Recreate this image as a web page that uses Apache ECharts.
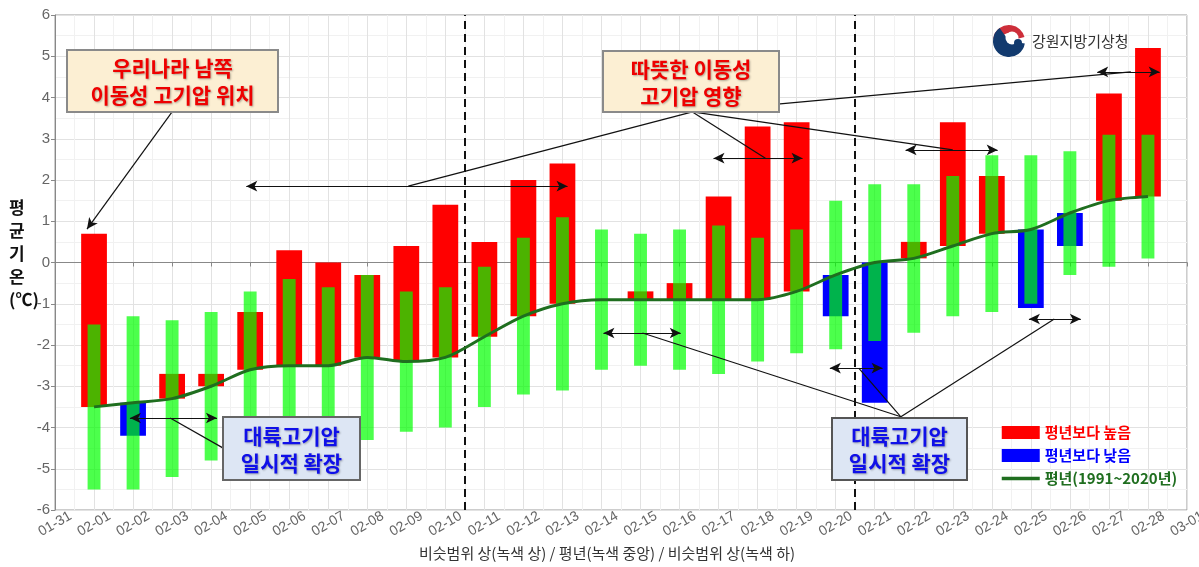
<!DOCTYPE html>
<html>
<head>
<meta charset="utf-8">
<script src="https://cdn.jsdelivr.net/npm/echarts@6/dist/echarts.min.js"></script>
<style>
html,body{margin:0;padding:0;background:#fff;}
#c{width:1199px;height:567px;}
</style>
</head>
<body>
<div id="c"></div>
<script>
// ---- data ----
const tickLabels = ['01-31','02-01','02-02','02-03','02-04','02-05','02-06','02-07','02-08','02-09','02-10',
  '02-11','02-12','02-13','02-14','02-15','02-16','02-17','02-18','02-19','02-20',
  '02-21','02-22','02-23','02-24','02-25','02-26','02-27','02-28','03-01'];
const days = ['02-01','02-02','02-03','02-04','02-05','02-06','02-07','02-08','02-09','02-10',
  '02-11','02-12','02-13','02-14','02-15','02-16','02-17','02-18','02-19','02-20',
  '02-21','02-22','02-23','02-24','02-25','02-26','02-27','02-28'];
const observed = [0.7,-4.2,-2.7,-2.7,-1.2,0.3,0.0,-0.3,0.4,1.4,0.5,2.0,2.4,-0.9,-0.7,-0.5,1.6,3.3,3.4,-1.3,-3.4,0.5,3.4,2.1,-1.1,0.4,4.1,5.2];
const normal = [-3.5,-3.4,-3.3,-3.0,-2.6,-2.5,-2.5,-2.3,-2.4,-2.3,-1.8,-1.3,-1.0,-0.9,-0.9,-0.9,-0.9,-0.9,-0.7,-0.3,0.0,0.1,0.4,0.7,0.8,1.2,1.5,1.6];
const rangeUpper = [-1.5,-1.3,-1.4,-1.2,-0.7,-0.4,-0.6,-0.3,-0.7,-0.6,-0.1,0.6,1.1,0.8,0.7,0.8,0.9,0.6,0.8,1.5,1.9,1.9,2.1,2.6,2.6,2.7,3.1,3.1];
const rangeLower = [-5.5,-5.5,-5.2,-4.8,-4.6,-4.6,-4.5,-4.3,-4.1,-4.0,-3.5,-3.2,-3.1,-2.6,-2.5,-2.6,-2.7,-2.4,-2.2,-2.1,-1.9,-1.7,-1.3,-1.2,-1.0,-0.3,-0.1,0.1];
const yTicks = [-6,-5,-4,-3,-2,-1,0,1,2,3,4,5,6];

// ---- build ----
const dayIndex = d => tickLabels.indexOf(d);
const highData = [], lowData = [], rangeData = [], normalData = [];
days.forEach((d, i) => {
  const x = dayIndex(d);
  if (observed[i] >= normal[i]) highData.push([x, normal[i], observed[i]]);
  else lowData.push([x, normal[i], observed[i]]);
  rangeData.push([x, rangeLower[i], rangeUpper[i]]);
  normalData.push([x, normal[i]]);
});

function floatBar(widthFrac, fill) {
  return function (params, api) {
    const x = api.value(0), a = api.value(1), b = api.value(2);
    const p1 = api.coord([x, Math.max(a, b)]);
    const p2 = api.coord([x, Math.min(a, b)]);
    const w = api.size([widthFrac, 0])[0];
    return {type: 'rect', shape: {x: p1[0] - w / 2, y: p1[1], width: w, height: Math.max(p2[1] - p1[1], 0)},
      style: {fill: fill}};
  };
}

const FONT = '"Liberation Sans", "Noto Sans CJK KR", sans-serif';
const KFONT = '"Noto Sans CJK KR", sans-serif';

const arrow = (x1, x2, y) => [{coord: [x1, y]}, {coord: [x2, y]}];
const conn = (p, q) => [{coord: p, symbol: 'none'}, {coord: q, symbol: 'none'}];

function box(x, y, w, h, fill, stroke, text, color) {
  return [
    {type: 'rect', z: 100, zlevel: 1, shape: {x: x, y: y, width: w, height: h}, style: {fill: fill, stroke: stroke, lineWidth: 2}},
    {type: 'text', z: 101, zlevel: 1, x: x + w / 2, y: y + h / 2 + 1,
      style: {text: text, font: 'bold 21px ' + KFONT, fill: color, align: 'center', verticalAlign: 'middle', lineHeight: 27,
        textShadowColor: 'rgba(0,0,0,0.3)', textShadowBlur: 2, textShadowOffsetX: 1, textShadowOffsetY: 1}}
  ];
}

const chart = echarts.init(document.getElementById('c'), null, {renderer: 'canvas'});
const option = {
  animation: false,
  textStyle: {fontFamily: FONT},
  grid: {left: 55, right: 12, top: 15, bottom: 57, show: true, borderColor: '#9a9a9a', borderWidth: 1,
    containLabel: false, outerBoundsMode: 'none'},
  xAxis: {
    type: 'value', min: 0, max: 29, interval: 1,
    axisLine: {lineStyle: {color: '#888'}},
    axisTick: {show: true, length: 4, lineStyle: {color: '#888'}},
    axisLabel: {formatter: v => tickLabels[v] || '', rotate: 30, color: '#666', fontSize: 14, margin: 14,
      align: 'center', verticalAlign: 'middle', fontFamily: FONT, hideOverlap: false},
    splitLine: {show: true, lineStyle: {color: '#e2e2e2'}},
    minorTick: {show: false, splitNumber: 2},
    minorSplitLine: {show: true, lineStyle: {color: '#f1f1f1'}}
  },
  yAxis: {
    type: 'value', min: yTicks[0], max: yTicks[yTicks.length - 1], interval: 1,
    axisLine: {show: true, lineStyle: {color: '#888'}},
    axisTick: {show: true, length: 4, lineStyle: {color: '#888'}},
    axisLabel: {color: '#666', fontSize: 15, margin: 5, fontFamily: FONT},
    splitLine: {show: true, lineStyle: {color: '#e2e2e2'}},
    minorTick: {show: false, splitNumber: 2},
    minorSplitLine: {show: true, lineStyle: {color: '#f1f1f1'}}
  },
  legend: {
    orient: 'vertical', left: 995, top: 420, itemWidth: 38, itemHeight: 13, itemGap: 8,
    textStyle: {fontSize: 15, fontWeight: 'bold', fontFamily: KFONT},
    data: [
      {name: '평년보다 높음', icon: 'rect', textStyle: {color: '#ff0000'}},
      {name: '평년보다 낮음', icon: 'rect', textStyle: {color: '#0000ff'}},
      {name: '평년(1991~2020년)', textStyle: {color: '#1f6e1f'},
        itemStyle: {color: 'rgba(0,0,0,0)', borderColor: 'rgba(0,0,0,0)', borderWidth: 0, opacity: 0},
        lineStyle: {color: '#1f6e1f', width: 3.5}}
    ]
  },
  series: [
    {name: '평년보다 높음', type: 'custom', renderItem: floatBar(0.66, '#ff0000'), itemStyle: {color: '#ff0000'},
      data: highData, encode: {x: 0, y: [1, 2]}, z: 2},
    {name: '평년보다 낮음', type: 'custom', renderItem: floatBar(0.66, '#0000ff'), itemStyle: {color: '#0000ff'},
      data: lowData, encode: {x: 0, y: [1, 2]}, z: 2},
    {name: '비슷범위', type: 'custom', renderItem: floatBar(0.33, 'rgba(0,255,0,0.7)'), itemStyle: {color: 'rgba(0,255,0,0.7)'},
      data: rangeData, encode: {x: 0, y: [1, 2]}, z: 3},
    {name: '평년(1991~2020년)', type: 'line', data: normalData, smooth: 0.3, symbol: 'none',
      lineStyle: {color: '#1f6e1f', width: 3}, itemStyle: {color: '#1f6e1f'}, z: 5},
    {name: 'divider', type: 'line', data: [], zlevel: 2,
      markLine: {
        silent: true, symbol: 'none', label: {show: false},
        lineStyle: {color: '#111', type: [8, 5], width: 2},
        data: [{xAxis: 10.5}, {xAxis: 20.5}]
      }},
    {name: 'annot', type: 'line', data: [], z: 6,
      markLine: {
        silent: true, symbol: ['arrow', 'arrow'], symbolSize: [8, 11], label: {show: false},
        lineStyle: {color: '#111', type: 'solid', width: 1.2},
        emphasis: {disabled: true},
        data: [
          arrow(4.9, 13.13, 1.85), arrow(16.87, 19.15, 2.53), arrow(21.79, 24.15, 2.73), arrow(26.7, 28.3, 4.62),
          arrow(1.92, 4.15, -3.77), arrow(14.05, 16.03, -1.71), arrow(19.85, 21.2, -2.56), arrow(24.95, 26.28, -1.37),
          conn([16.33, 3.65], [9.05, 1.85]), conn([16.33, 3.65], [18.2, 2.53]),
          conn([16.33, 3.65], [23.0, 2.73]), conn([16.33, 3.65], [27.56, 4.62]),
          [{coord: [3.0, 3.65], symbol: 'none'}, {coord: [0.82, 0.81], symbol: 'arrow'}],
          conn([4.31, -4.5], [2.95, -3.77]),
          conn([21.67, -3.74], [15.05, -1.71]), conn([21.67, -3.74], [20.59, -2.56]), conn([21.67, -3.74], [25.6, -1.37])
        ]
      }}
  ],
  graphic: [
    {type: 'text', left: 9, top: 196, z: 100,
      style: {text: '평\n균\n기\n온\n(℃)', font: 'bold 17px ' + KFONT, fill: '#111', lineHeight: 23, align: 'center'}},
    {type: 'text', x: 607, y: 553, z: 100,
      style: {text: '비슷범위 상(녹색 상) / 평년(녹색 중앙) / 비슷범위 상(녹색 하)', font: '15px ' + KFONT, fill: '#333',
        align: 'center', verticalAlign: 'middle'}},
    ...box(67, 50, 211, 62, '#fcefd3', '#8a8a8a', '우리나라 남쪽\n이동성 고기압 위치', '#ee0000'),
    ...box(603, 51, 176, 61, '#fcefd3', '#8a8a8a', '따뜻한 이동성\n고기압 영향', '#ee0000'),
    ...box(223, 417, 137, 63, '#dde6f4', '#666666', '대륙고기압\n일시적 확장', '#1010e8'),
    ...box(832, 418, 135, 62, '#dde6f4', '#555555', '대륙고기압\n일시적 확장', '#1010e8'),
    // logo
    {type: 'circle', z: 100, zlevel: 1, shape: {cx: 1009, cy: 41, r: 16}, style: {fill: '#ffffff'}},
    {type: 'sector', z: 101, zlevel: 1, shape: {cx: 1009, cy: 41, r: 16, r0: 8, startAngle: Math.PI * 1.05, endAngle: Math.PI * 1.92}, style: {fill: '#cd2e3a'}},
    {type: 'sector', z: 101, zlevel: 1, shape: {cx: 1009, cy: 41, r: 16, r0: 0, startAngle: Math.PI * 0.05, endAngle: Math.PI * 1.3}, style: {fill: '#123a6e'}},
    {type: 'circle', z: 102, zlevel: 1, shape: {cx: 1012, cy: 38, r: 6.5}, style: {fill: '#ffffff'}},
    {type: 'circle', z: 103, zlevel: 1, shape: {cx: 1018, cy: 43, r: 4}, style: {fill: '#123a6e'}},
    {type: 'text', z: 101, zlevel: 1, x: 1032, y: 41, style: {text: '강원지방기상청', font: '15px ' + KFONT, fill: '#333', verticalAlign: 'middle'}}
  ]
};
chart.setOption(option);
</script>
</body>
</html>
